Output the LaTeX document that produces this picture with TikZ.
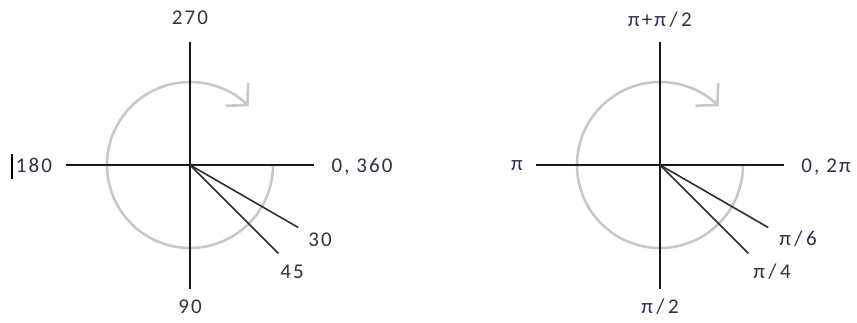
\documentclass[tikz,border=0pt]{standalone}
\usepackage{fontspec}
\usepackage{tikz}
\usetikzlibrary{arrows.meta,positioning,calc}
\newfontfamily\lblfont[LetterSpace=10]{Carlito}
\definecolor{labelgray}{HTML}{30304A}
\definecolor{arcgray}{HTML}{C8C8C8}
\definecolor{raygray}{HTML}{2E2E2E}

\begin{document}
\begin{tikzpicture}[
  x=1pt,y=1pt,
  lbl/.style={text=labelgray,font=\fontsize{21}{25}\selectfont\lblfont,inner sep=0pt},
  axis/.style={line width=1.8pt,draw=black!90},
  ray/.style={line width=1.6pt,draw=raygray},
  turn/.style={draw=arcgray,line width=2.6pt,-{Straight Barb[length=15pt,width=32pt,line width=2.6pt]}}
]
\useasboundingbox (-190,-157) rectangle (667,165);

% degrees
\coordinate (lc) at (0,0);
\coordinate (ln) at (0,123);
\coordinate (ls) at (0,-124);
\coordinate (lw) at (-124,0);
\coordinate (le) at (124,0);
\coordinate (l30) at ($(lc)+(-30:125)$);
\coordinate (l45) at ($(lc)+(-45:125)$);
\draw[turn] ([shift={(0:83)}]lc) arc[start angle=0,end angle=-315,radius=83];
\draw[axis] (ln) -- (ls);
\draw[axis] (lw) -- (le);
\draw[ray] (lc) -- (l30);
\draw[ray] (lc) -- (l45);
\node[lbl] (d270) at (0,147) {270};
\node[lbl] (d90) at (0,-142) {90};
\node[lbl] (d180) at (-156,0) {180};
\node[lbl] (d0) at (172,-2) {0, 360};
\node[lbl] (d30) at (130,-75) {30};
\node[lbl] (d45) at (102,-107) {45};
\draw[line width=1.2pt] (-178,11) -- (-178,-14);

% radians
\coordinate (rc) at (470,0);
\coordinate (rn) at (470,123);
\coordinate (rs) at (470,-124);
\coordinate (rw) at (346,0);
\coordinate (re) at (594,0);
\coordinate (r30) at ($(rc)+(-30:125)$);
\coordinate (r45) at ($(rc)+(-45:125)$);
\draw[turn] ([shift={(0:83)}]rc) arc[start angle=0,end angle=-315,radius=83];
\draw[axis] (rn) -- (rs);
\draw[axis] (rw) -- (re);
\draw[ray] (rc) -- (r30);
\draw[ray] (rc) -- (r45);
\node[lbl] (p32) at (470,145) {π+π\,/\,2};
\node[lbl] (p12) at (470,-142) {π\,/\,2};
\node[lbl] (p1) at (327,-1) {π};
\node[lbl] (p0) at (636,-2) {0, 2π};
\node[lbl] (p6) at (608,-74) {π\,/\,6};
\node[lbl] (p4) at (582,-107) {π\,/\,4};
\end{tikzpicture}
\end{document}
